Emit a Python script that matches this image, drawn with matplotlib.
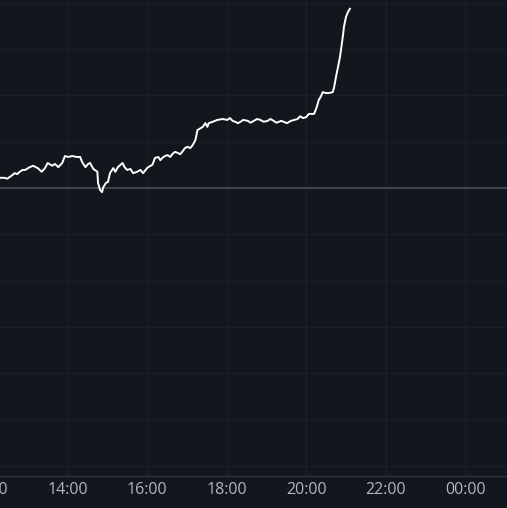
import matplotlib
matplotlib.use("Agg")
import matplotlib.pyplot as plt

# intraday price path, % change vs previous close
times = ["12:18", "12:25", "12:29", "12:33", "12:37", "12:40", "12:44", "12:48",
         "12:52", "12:56", "13:03", "13:08", "13:15", "13:21", "13:26", "13:30",
         "13:37", "13:41", "13:46", "13:52", "13:56", "14:01", "14:07", "14:14",
         "14:19", "14:22", "14:27", "14:31", "14:34", "14:39", "14:45", "14:46",
         "14:49", "14:52", "14:54", "14:58", "15:01", "15:04", "15:09", "15:12",
         "15:16", "15:23", "15:26", "15:30", "15:35", "15:39", "15:45", "15:50",
         "15:54", "16:00", "16:04", "16:08", "16:12", "16:17", "16:20", "16:23",
         "16:27", "16:31", "16:35", "16:38", "16:42", "16:46", "16:50", "16:53",
         "16:57", "17:01", "17:05", "17:09", "17:13", "17:16", "17:24", "17:28",
         "17:31", "17:33", "17:39", "17:46", "17:54", "18:01", "18:05", "18:09",
         "18:13", "18:17", "18:21", "18:25", "18:32", "18:36", "18:41", "18:46",
         "18:51", "18:56", "19:02", "19:06", "19:11", "19:15", "19:19", "19:22",
         "19:26", "19:31", "19:37", "19:42", "19:47", "19:51", "19:55", "20:00",
         "20:04", "20:12", "20:16", "20:19", "20:22", "20:25", "20:30", "20:34",
         "20:40", "20:42", "20:45", "20:48", "20:51", "20:54", "20:56", "20:57",
         "21:00", "21:03", "21:06"]
change = [0.22, 0.22, 0.20, 0.24, 0.28, 0.32, 0.30, 0.35,
          0.39, 0.39, 0.45, 0.48, 0.43, 0.35, 0.43, 0.54,
          0.48, 0.52, 0.45, 0.54, 0.69, 0.67, 0.69, 0.67,
          0.67, 0.56, 0.45, 0.52, 0.54, 0.41, 0.35, 0.11,
          -0.04, -0.09, 0.02, 0.11, 0.13, 0.32, 0.43, 0.35,
          0.45, 0.54, 0.45, 0.39, 0.41, 0.32, 0.35, 0.39,
          0.32, 0.43, 0.47, 0.50, 0.65, 0.67, 0.60, 0.65,
          0.69, 0.71, 0.67, 0.73, 0.78, 0.76, 0.73, 0.78,
          0.86, 0.89, 0.86, 0.93, 1.04, 1.25, 1.32, 1.40,
          1.32, 1.40, 1.43, 1.47, 1.49, 1.47, 1.51, 1.45,
          1.43, 1.40, 1.43, 1.47, 1.45, 1.41, 1.45, 1.49,
          1.47, 1.43, 1.45, 1.49, 1.45, 1.41, 1.43, 1.45,
          1.43, 1.40, 1.45, 1.47, 1.49, 1.55, 1.51, 1.53,
          1.60, 1.60, 1.75, 1.90, 1.97, 2.07, 2.05, 2.05,
          2.07, 2.16, 2.40, 2.61, 2.83, 3.13, 3.35, 3.48,
          3.69, 3.80, 3.87]
prev_close = 0.0
tick_labels = ["12:00", "14:00", "16:00", "18:00", "20:00", "22:00", "00:00"]


def to_minutes(s):
    h, m = map(int, s.split(":"))
    if h < 12:
        h += 24
    return (h - 12) * 60 + m


x = [to_minutes(t) for t in times]
tick_pos = [to_minutes(t) for t in tick_labels]

bg = "#14161d"
W, H = 507, 508
fig = plt.figure(figsize=(W / 100, H / 100), dpi=100, facecolor=bg)
# axes slightly wider than the figure so that the 12:00 label gets cut at the left
ax = fig.add_axes([-12 / W, 32 / H, (W + 12) / W, 476 / H])
ax.set_facecolor(bg)

ax.set_xlim(0, 783)
ax.set_ylim(-6.22, 4.06)

ax.set_xticks(tick_pos)
ax.set_xticklabels(tick_labels)
ax.set_yticks(range(-6, 5))
ax.tick_params(axis="x", length=0, pad=4, labelsize=11.5, labelcolor="#b2b5be")
ax.tick_params(axis="y", length=0, labelleft=False)
for lab in ax.get_xticklabels():
    lab.set_fontfamily("Open Sans")

ax.grid(True, color="#1b1e26", linewidth=1)
ax.set_axisbelow(True)

for name, sp in ax.spines.items():
    sp.set_visible(name == "bottom")
ax.spines["bottom"].set_color("#2f333d")
ax.spines["bottom"].set_linewidth(1)

ax.axhline(prev_close, color="#4e525c", linewidth=1.1, zorder=2)
ax.plot(x, change, color="white", linewidth=1.4, zorder=3, solid_joinstyle="round")

fig.savefig("out.png", dpi=100, facecolor=bg)
